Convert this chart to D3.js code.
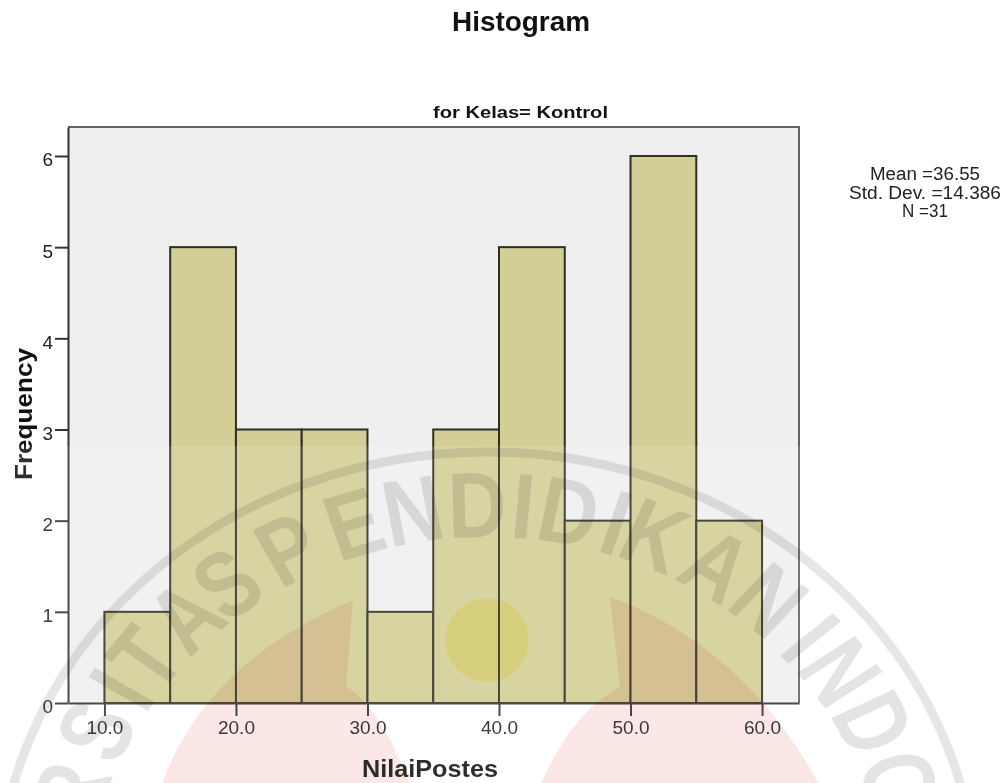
<!DOCTYPE html>
<html>
<head>
<meta charset="utf-8">
<script src="https://cdnjs.cloudflare.com/ajax/libs/d3/7.8.5/d3.min.js"></script>
<style>
    html, body { margin: 0; padding: 0; background: #fff; }
    svg { display: block; font-family: "Liberation Sans", Arial, sans-serif; filter: blur(0.35px); }
    .tick text { font-size: 19px; fill: #222; }
    .axis path, .tick line { stroke: #333; stroke-width: 2px; }
    .wm { mix-blend-mode: multiply; }
</style>
</head>
<body>
<div id="chart"></div>
<script>
// Histogram bins and counts
const binStarts = [10, 15, 20, 25, 30, 35, 40, 45, 50, 55];
const binWidth = 5;
const counts = [1, 5, 3, 3, 1, 3, 5, 2, 6, 2];
const xTicks = [10, 20, 30, 40, 50, 60];
const yTicks = [0, 1, 2, 3, 4, 5, 6];
const statLines = ["Mean =36.55", "Std. Dev. =14.386", "N =31"];

// Watermark letters, angle in degrees from the top of the seal
const sealLetters = ["R", "S", "I", "T", "A", "S", "P", "E", "N", "D", "I", "D", "I", "K", "A", "N", "I", "N", "D", "O"];
const sealAngles = [-74.1, -64.7, -57.8, -52.3, -44.2, -36.9, -27.4, -17.9, -9.9, -1.3, 4.8, 10.9, 17.4, 22.8, 32.1, 40.7, 48.5, 54.8, 63.4, 72.6];

const width = 1006, height = 783;
const margin = { top: 127, right: 207, bottom: 80, left: 68 };
const statWidths = [110, 152, 46];

const svg = d3.select("#chart").append("svg")
    .attr("width", width)
    .attr("height", height);

const x = d3.scaleLinear().domain([7.23, 62.81]).range([margin.left, width - margin.right]);
const y = d3.scaleLinear().domain([0, 6.318]).range([height - margin.bottom, margin.top]);

// Plot background
svg.append("rect")
    .attr("x", margin.left)
    .attr("y", margin.top)
    .attr("width", width - margin.left - margin.right)
    .attr("height", height - margin.top - margin.bottom)
    .attr("fill", "#efefef");

// Bars
svg.selectAll(".bar")
    .data(binStarts)
    .enter()
    .append("rect")
    .attr("class", "bar")
    .attr("x", d => x(d))
    .attr("y", (d, i) => y(counts[i]))
    .attr("width", d => x(d + binWidth) - x(d))
    .attr("height", (d, i) => y(0) - y(counts[i]))
    .attr("fill", "#d3ce96")
    .attr("stroke", "#2e2e22")
    .attr("stroke-width", 2);

// Frame top and right are lighter than the axes
svg.append("path")
    .attr("d", `M${margin.left},${margin.top}H${width - margin.right}V${height - margin.bottom}`)
    .attr("fill", "none")
    .attr("stroke", "#626262")
    .attr("stroke-width", 2);

// Axes
const yAxis = svg.append("g")
    .attr("class", "axis")
    .attr("transform", `translate(${margin.left},0)`)
    .call(d3.axisLeft(y).tickValues(yTicks).tickFormat(d3.format("d")).tickSize(13).tickSizeOuter(0).tickPadding(2));
yAxis.selectAll(".tick text").attr("dy", "0.52em");

svg.append("g")
    .attr("class", "axis")
    .attr("transform", `translate(0,${height - margin.bottom})`)
    .call(d3.axisBottom(x).tickValues(xTicks).tickFormat(d3.format(".1f")).tickSize(13).tickSizeOuter(0).tickPadding(5));

// Titles, stretched a little like the source image
svg.append("text")
    .attr("x", 521).attr("y", 31)
    .attr("text-anchor", "middle")
    .attr("textLength", 138).attr("lengthAdjust", "spacingAndGlyphs")
    .style("font-size", "28px").style("font-weight", "bold")
    .attr("fill", "#111")
    .text("Histogram");

svg.append("text")
    .attr("x", 520.5).attr("y", 118)
    .attr("text-anchor", "middle")
    .attr("textLength", 175).attr("lengthAdjust", "spacingAndGlyphs")
    .style("font-size", "17px").style("font-weight", "bold")
    .attr("fill", "#111")
    .text("for Kelas= Kontrol");

svg.append("text")
    .attr("transform", "translate(32,414) rotate(-90)")
    .attr("text-anchor", "middle")
    .attr("textLength", 132).attr("lengthAdjust", "spacingAndGlyphs")
    .style("font-size", "23px").style("font-weight", "bold")
    .attr("fill", "#111")
    .text("Frequency");

svg.append("text")
    .attr("x", 430).attr("y", 777)
    .attr("text-anchor", "middle")
    .attr("textLength", 136).attr("lengthAdjust", "spacingAndGlyphs")
    .style("font-size", "23px").style("font-weight", "bold")
    .attr("fill", "#111")
    .text("NilaiPostes");

// Stats box
svg.selectAll(".stat")
    .data(statLines)
    .enter()
    .append("text")
    .attr("class", "stat")
    .attr("x", 925)
    .attr("y", (d, i) => 180 + i * 18.5)
    .attr("text-anchor", "middle")
    .attr("textLength", (d, i) => statWidths[i]).attr("lengthAdjust", "spacingAndGlyphs")
    .style("font-size", "18px")
    .attr("fill", "#222")
    .text(d => d);

// Scan is a bit lighter below this line
svg.append("rect")
    .attr("x", 0).attr("y", 446).attr("width", width).attr("height", height - 446)
    .attr("fill", "#fff").attr("opacity", 0.12);

// University seal watermark laid over everything, it is stretched sideways
const seal = svg.append("g").attr("class", "wm");
const cx = 487, cy = 900, stretch = 1.094;

seal.append("ellipse")
    .attr("cx", cx).attr("cy", cy).attr("rx", 490).attr("ry", 448)
    .attr("fill", "none").attr("stroke", "#e6e6e6").attr("stroke-width", 9);

// Letters are narrow in the seal, squeeze them along the arc
seal.selectAll(".letter")
    .data(sealLetters)
    .enter()
    .append("text")
    .attr("class", "letter")
    .attr("transform", (d, i) => `translate(${cx},${cy}) scale(${stretch},1) rotate(${sealAngles[i]}) translate(0,-363) scale(0.8,1)`)
    .attr("text-anchor", "middle")
    .style("font-size", "93px").style("font-weight", "bold")
    .attr("fill", "#e4e4e4")
    .text(d => d);

seal.append("path")
    .attr("d", "M353,600 C260,640 190,700 160,790 L412,790 C395,745 375,705 346,686 Z")
    .attr("fill", "#fce7e7");
seal.append("path")
    .attr("d", "M610,597 C690,625 770,690 822,790 L538,790 C560,740 585,705 620,687 Z")
    .attr("fill", "#fce7e7");
seal.append("circle")
    .attr("cx", 487).attr("cy", 640).attr("r", 42)
    .attr("fill", "#fdfbc6");
</script>
</body>
</html>
